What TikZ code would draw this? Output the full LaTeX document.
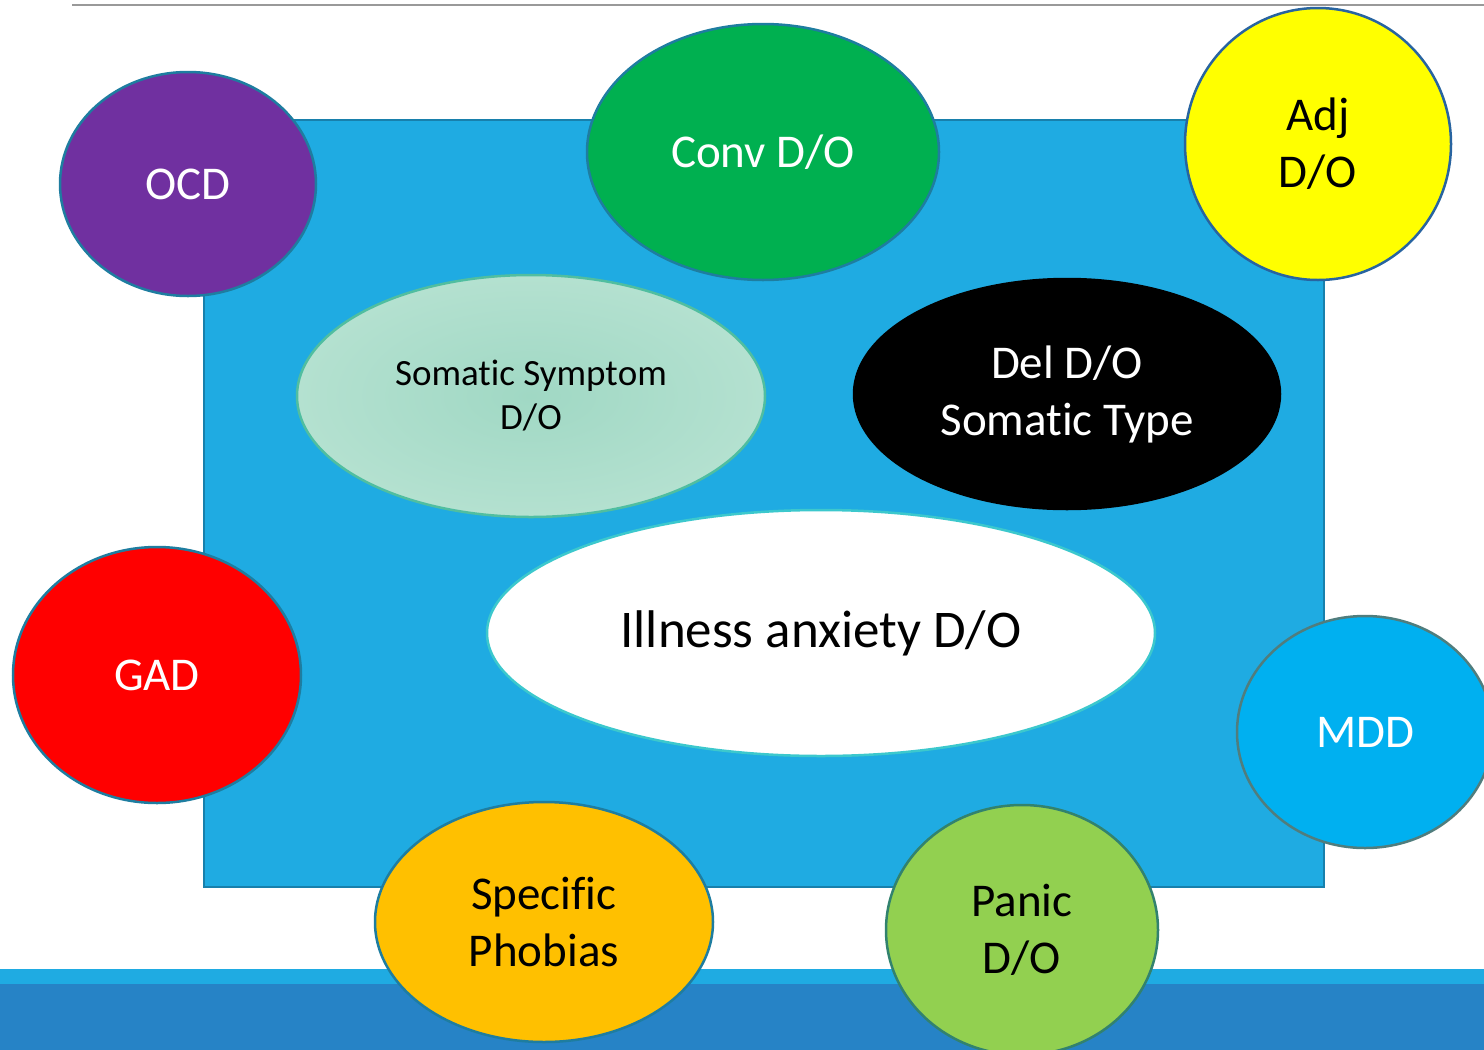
\documentclass[tikz,border=0pt]{standalone}
\usepackage{fontspec}
\setmainfont{Carlito}[Ligatures={NoCommon,NoContextual}]
\usetikzlibrary{shapes.geometric}
\definecolor{rectfill}{RGB}{31,171,226}
\definecolor{rectline}{RGB}{24,128,172}
\definecolor{bandlight}{RGB}{31,171,226}
\definecolor{banddark}{RGB}{38,131,198}
\definecolor{edgeteal}{RGB}{30,125,160}
\definecolor{ocdfill}{RGB}{112,48,160}
\definecolor{convfill}{RGB}{0,176,80}
\definecolor{adjfill}{RGB}{255,255,0}
\definecolor{adjline}{RGB}{40,100,160}
\definecolor{somin}{RGB}{160,216,196}
\definecolor{somout}{RGB}{180,225,208}
\definecolor{somline}{RGB}{80,190,160}
\definecolor{illline}{RGB}{60,200,205}
\definecolor{gadfill}{RGB}{255,0,0}
\definecolor{mddfill}{RGB}{0,176,240}
\definecolor{mddline}{RGB}{80,125,125}
\definecolor{spfill}{RGB}{255,192,0}
\definecolor{panfill}{RGB}{146,208,80}
\definecolor{panline}{RGB}{50,130,110}
\tikzset{
  blob/.style={ellipse, inner sep=0pt, align=center, line width=2.5pt, draw=edgeteal},
  bigtext/.style={font=\fontsize{47}{57}\selectfont},
}
\begin{document}
\begin{tikzpicture}[x=1pt,y=-1pt]
\useasboundingbox (0,0) rectangle (1484,1050);
\clip (0,0) rectangle (1484,1050);
\fill[white] (0,0) rectangle (1484,1050);
% top rule
\draw[line width=2pt, color=black!40] (72,4.5) -- (1484,4.5);
% bottom bands
\fill[bandlight] (0,969) rectangle (1484,984);
\fill[banddark] (0,984) rectangle (1484,1050);
% main rectangle
\draw[fill=rectfill, draw=rectline, line width=2pt] (204,120) rectangle (1324,887);
% ellipses
\node[blob, fill=ocdfill, minimum width=256pt, minimum height=224pt, text=white, bigtext] (ocd) at (188,184) {OCD};
\node[blob, fill=convfill, minimum width=352pt, minimum height=256pt, text=white, bigtext] (conv) at (763,152) {Conv D/O};
\node[blob, fill=adjfill, draw=adjline, minimum width=266pt, minimum height=272pt, text=black, bigtext] (adj) at (1318,144) {Adj\\D/O};
\node[blob, inner color=somin, outer color=somout, draw=somline, minimum width=468pt, minimum height=242pt, text=black, font=\fontsize{37}{44}\selectfont] (som) at (531,396) {Somat\kern0pt ic Sympt\kern0pt om\\D/O};
\node[blob, fill=black, draw=black, minimum width=426pt, minimum height=230pt, text=white, bigtext] (del) at (1067,394) {Del D/O\\Somat\kern0pt ic Type};
\node[blob, fill=white, draw=illline, minimum width=668pt, minimum height=246pt, text=black, font=\fontsize{53}{60}\selectfont] (ill) at (821,633) {Illness anxiety D/O};
\node[blob, fill=gadfill, minimum width=288pt, minimum height=256pt, text=white, bigtext] (gad) at (157,675) {GAD};
\node[blob, fill=mddfill, draw=mddline, minimum width=256pt, minimum height=232pt, text=white, bigtext] (mdd) at (1365,732) {MDD};
\node[blob, fill=spfill, minimum width=338pt, minimum height=240pt, text=black, bigtext] (sp) at (544,922) {Specific\\Phobias};
\node[blob, fill=panfill, draw=panline, minimum width=272pt, minimum height=250pt, text=black, bigtext] (pan) at (1022,930) {Panic\\D/O};
\end{tikzpicture}
\end{document}
